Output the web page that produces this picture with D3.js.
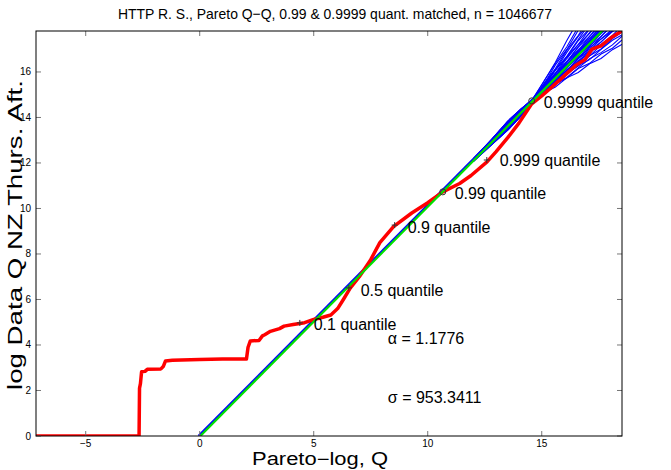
<!DOCTYPE html>
<html><head><meta charset="utf-8">
<script src="https://cdn.jsdelivr.net/npm/d3@7"></script>
<style>
body{margin:0;background:#fff;}
text{font-family:"Liberation Sans",Arial,Helvetica,sans-serif;}
</style></head><body>
<svg id="c" width="671" height="470"></svg>
<script>
// ---- data ----
const titleText = "HTTP R. S., Pareto Q\u2212Q, 0.99 & 0.9999 quant. matched, n = 1046677";
const xLabel = "Pareto\u2212log, Q";
const yLabel = "log Data Q NZ Thurs. Aft.";
const xTicks = [-5, 0, 5, 10, 15];
const yTicks = [0, 2, 4, 6, 8, 10, 12, 14, 16];
const xDomain = [-7.18, 18.52];
const yDomain = [0, 17.8];

// data quantile curve (red)
const redX = [-7.18,-2.66,-2.64,-2.6,-2.55,-2.4,-2.3,-1.7,-1.6,-1.5,-1.2,0,1,2.05,2.12,2.22,2.6,2.75,2.85,3.1,3.5,3.7,4.1,4.6,5.0,5.4,5.75,6.05,6.3,6.6,7.0,7.5,7.9,8.5,9.3,10.0,10.66,11.4,11.9,12.6,13.0,13.5,14.0,14.56,15.0,15.35,15.9,16.5,16.9,17.2,17.6,18.1,18.6];
const redY = [0,0,2.1,2.3,2.82,2.84,2.93,2.95,3.05,3.3,3.33,3.36,3.38,3.38,3.9,4.18,4.2,4.4,4.45,4.6,4.72,4.83,4.9,4.98,5.12,5.22,5.32,5.6,6.0,6.5,7.0,7.75,8.5,9.2,9.8,10.25,10.73,11.1,11.45,12.05,12.5,13.1,13.75,14.6,14.95,15.25,15.75,16.3,16.55,17.0,17.15,17.55,17.85];

// fitted Pareto line
const fitX = [0, 18.6];
const fitY = [0, 18.79];

// simulated Pareto quantile curves (blue)
const simX = [12.0, 12.8, 13.5, 14.1, 14.6, 15.1, 15.6, 16.1, 16.6, 17.1, 17.6, 18.1, 18.6];
const simY = [
 [12.14,12.99,13.76,14.34,14.77,15.09,15.34,15.74,15.98,16.36,16.59,16.98,17.25],
 [12.09,12.85,13.50,14.14,14.73,15.04,15.47,15.73,16.15,16.38,16.79,17.04,17.47],
 [12.17,13.03,13.82,14.38,14.78,15.15,15.48,15.76,16.18,16.58,16.85,17.19,17.64],
 [12.07,12.81,13.44,14.08,14.72,15.10,15.44,15.90,16.28,16.54,16.99,17.39,17.68],
 [12.12,12.96,13.59,14.28,14.76,15.16,15.48,15.95,16.26,16.71,17.01,17.47,17.81],
 [12.15,12.89,13.71,14.19,14.74,15.11,15.60,15.93,16.41,16.71,17.18,17.50,17.99],
 [12.14,12.99,13.76,14.34,14.77,15.21,15.60,15.94,16.42,16.88,17.21,17.61,18.12],
 [12.09,12.85,13.50,14.14,14.72,15.15,15.55,16.06,16.50,16.81,17.32,17.77,18.12],
 [12.17,13.03,13.82,14.38,14.79,15.21,15.58,16.10,16.46,16.96,17.31,17.82,18.21],
 [12.07,12.81,13.44,14.08,14.73,15.15,15.69,16.06,16.59,16.93,17.45,17.81,18.35],
 [12.12,12.96,13.59,14.28,14.75,15.25,15.68,16.06,16.58,17.08,17.45,17.89,18.44],
 [12.15,12.89,13.71,14.19,14.76,15.19,15.63,16.18,16.66,17.01,17.56,18.05,18.44],
 [12.14,12.99,13.76,14.34,14.76,15.25,15.66,16.22,16.62,17.16,17.55,18.10,18.53],
 [12.09,12.85,13.50,14.14,14.74,15.19,15.77,16.18,16.75,17.13,17.69,18.09,18.67],
 [12.17,13.03,13.82,14.38,14.77,15.29,15.76,16.18,16.74,17.28,17.69,18.17,18.76],
 [12.07,12.81,13.44,14.08,14.73,15.23,15.71,16.30,16.82,17.21,17.80,18.33,18.76],
 [12.12,12.96,13.59,14.28,14.75,15.29,15.74,16.34,16.78,17.36,17.79,18.38,18.85],
 [12.15,12.89,13.71,14.19,14.77,15.23,15.85,16.30,16.91,17.33,17.93,18.37,18.99],
 [12.14,12.99,13.76,14.34,14.78,15.33,15.84,16.30,16.90,17.48,17.93,18.45,19.08],
 [12.09,12.85,13.50,14.14,14.74,15.27,15.79,16.42,16.98,17.41,18.04,18.61,19.08],
 [12.17,13.03,13.82,14.38,14.79,15.33,15.82,16.46,16.94,17.56,18.03,18.66,19.17],
 [12.07,12.81,13.44,14.08,14.72,15.28,15.94,16.44,17.09,17.56,18.20,18.69,19.35],
 [12.12,12.96,13.59,14.28,14.76,15.38,15.94,16.45,17.10,17.73,18.23,18.80,19.48],
 [12.15,12.89,13.71,14.19,14.78,15.33,15.90,16.59,17.20,17.69,18.37,19.00,19.52],
 [12.14,12.99,13.76,14.34,14.77,15.40,15.95,16.66,17.20,17.89,18.42,19.12,19.69],
 [12.09,12.85,13.50,14.14,14.75,15.35,16.08,16.65,17.37,17.91,18.62,19.18,19.91],
 [12.17,13.03,13.82,14.38,14.80,15.46,16.10,16.69,17.42,18.13,18.71,19.36,20.12],
 [12.07,12.81,13.44,14.08,14.74,15.42,16.08,16.86,17.56,18.14,18.91,19.63,20.24],
 [12.12,12.96,13.59,14.28,14.77,15.50,16.15,16.96,17.60,18.39,19.02,19.82,20.49],
 [12.15,12.89,13.71,14.19,14.79,15.46,16.31,16.99,17.83,18.48,19.31,19.98,20.83],
 [12.14,12.99,13.76,14.34,14.79,15.60,16.38,17.11,17.98,18.83,19.55,20.34,21.24],
 [12.09,12.85,13.50,14.14,14.81,15.59,16.43,17.38,18.26,19.01,19.96,20.85,21.64]
];

// quantile markers
const plusX = [4.39, 6.54, 8.55, 12.59];
const plusY = [4.97, 6.51, 9.27, 12.13];
const circX = [10.66, 14.56];
const circY = [10.73, 14.73];

// annotation texts and anchors (data units)
const annText = ["0.9999 quantile","0.999 quantile","0.99 quantile","0.9 quantile","0.5 quantile","0.1 quantile","\u03b1 = 1.1776","\u03c3 = 953.3411"];
const annX = [15.09, 13.16, 11.18, 9.12, 7.06, 5.0, 8.25, 8.25];
const annY = [14.68, 12.13, 10.68, 9.19, 6.42, 4.92, 4.31, 1.71];

// ---- drawing ----
const svg = d3.select("#c");
const L = 36, R = 622, T = 31, B = 436;
const x = d3.scaleLinear().domain(xDomain).range([L, R]);
const y = d3.scaleLinear().domain(yDomain).range([B, T]);

svg.append("defs").append("clipPath").attr("id","clip")
  .append("rect").attr("x",L).attr("y",T).attr("width",R-L).attr("height",B-T);

const plot = svg.append("g").attr("clip-path","url(#clip)");
const line = d3.line().x(d=>x(d[0])).y(d=>y(d[1]));

// simulated curves
simY.forEach(ys=>{
  plot.append("path").datum(simX.map((v,i)=>[v,ys[i]]))
    .attr("d", line).attr("fill","none").attr("stroke","#0000ff").attr("stroke-width",1.1);
});
// blue reference line (under green)
plot.append("path").datum(fitX.map((v,i)=>[v,fitY[i]]))
  .attr("d", line).attr("fill","none").attr("stroke","#0000ff").attr("stroke-width",2.5)
  .attr("transform","translate(-1,0)");
// red data curve
plot.append("path").datum(redX.map((v,i)=>[v,redY[i]]))
  .attr("d", line).attr("fill","none").attr("stroke","#ff0000").attr("stroke-width",3.5)
  .attr("stroke-linejoin","round");
// green fit line
plot.append("path").datum(fitX.map((v,i)=>[v,fitY[i]]))
  .attr("d", line).attr("fill","none").attr("stroke","#00e000").attr("stroke-width",2.2)
  .attr("transform","translate(0.6,0)");

// markers
plusX.forEach((v,i)=>{
  const cx = x(v), cy = y(plusY[i]);
  plot.append("path").attr("d",`M${cx-3},${cy}H${cx+3}M${cx},${cy-3}V${cy+3}`)
    .attr("stroke","#333").attr("stroke-width",1);
});
circX.forEach((v,i)=>{
  plot.append("circle").attr("cx",x(v)).attr("cy",y(circY[i])).attr("r",3)
    .attr("fill","none").attr("stroke","#333").attr("stroke-width",1);
});

// axes box & ticks
const tk = 5;
const axG = svg.append("g");
xTicks.forEach(t=>{
  const px = x(t);
  axG.append("line").attr("x1",px).attr("x2",px).attr("y1",B).attr("y2",B-tk).attr("stroke","#777");
  axG.append("line").attr("x1",px).attr("x2",px).attr("y1",T).attr("y2",T+tk).attr("stroke","#777");
  axG.append("text").attr("x",px).attr("y",B+11).attr("text-anchor","middle")
    .attr("font-size",10).text(String(t).replace("-","\u2212"));
});
yTicks.forEach(t=>{
  const py = y(t);
  axG.append("line").attr("x1",L).attr("x2",L+tk).attr("y1",py).attr("y2",py).attr("stroke","#777");
  axG.append("line").attr("x1",R).attr("x2",R-tk).attr("y1",py).attr("y2",py).attr("stroke","#777");
  axG.append("text").attr("x",L-5).attr("y",py+3.5).attr("text-anchor","end")
    .attr("font-size",10).text(t);
});
axG.append("rect").attr("x",L).attr("y",T).attr("width",R-L).attr("height",B-T)
  .attr("fill","none").attr("stroke","#000").attr("stroke-width",1);

// annotations
annText.forEach((s,i)=>{
  svg.append("text").attr("x",x(annX[i])).attr("y",y(annY[i])).attr("dy","0.35em")
    .attr("font-size",16).attr("fill","#000").text(s);
});

// titles
svg.append("text").attr("x",335).attr("y",19).attr("text-anchor","middle")
  .attr("font-size",15).attr("textLength",434).attr("lengthAdjust","spacingAndGlyphs").text(titleText);
svg.append("text").attr("x",320).attr("y",465).attr("text-anchor","middle")
  .attr("font-size",17.5).attr("textLength",136).attr("lengthAdjust","spacingAndGlyphs").text(xLabel);
svg.append("text").attr("transform",`translate(22,235) rotate(-90)`)
  .attr("text-anchor","middle").attr("font-size",20)
  .attr("textLength",310).attr("lengthAdjust","spacingAndGlyphs").text(yLabel);
</script>
</body></html>
